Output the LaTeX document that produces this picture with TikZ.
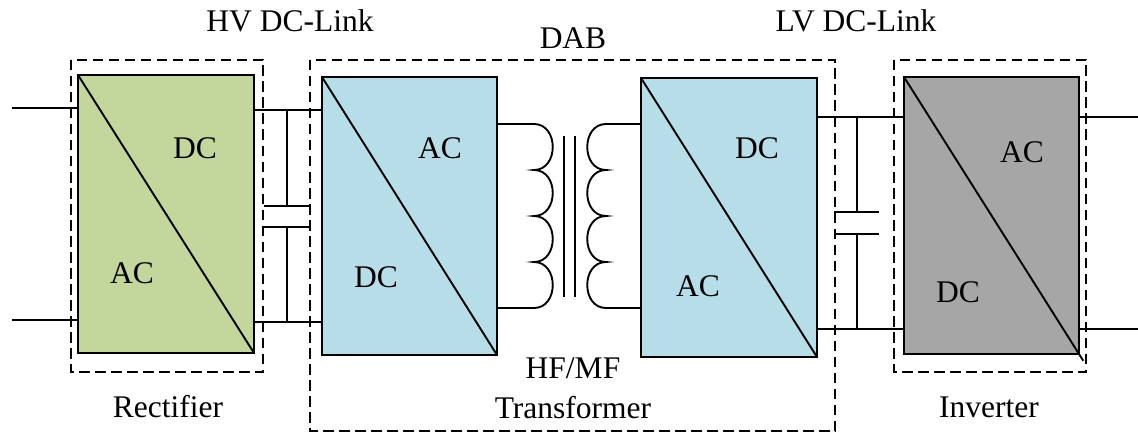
\documentclass[tikz,border=0pt]{standalone}
\usepackage{fontspec}
\setmainfont{Liberation Serif}
\usepackage{xcolor}
\definecolor{recgreen}{HTML}{C3D69B}
\definecolor{dabblue}{HTML}{B7DEE8}
\definecolor{invgray}{HTML}{A6A6A6}

\begin{document}
\begin{tikzpicture}[x=1pt,y=-1pt,line width=1.9pt,
  conv/.style={draw,rectangle,inner sep=0pt,outer sep=0pt,minimum width=176pt,minimum height=278pt},
  dashbox/.style={dash pattern=on 10.5pt off 5.5pt},
  lbl/.style={anchor=base,inner sep=0pt,font=\fontsize{31.5}{38}\selectfont}]
 \useasboundingbox (0,0) rectangle (1138,433);

  % converters
  \node[conv,fill=recgreen] (rec) at (166,214) {};
  \node[conv,fill=dabblue,minimum width=175pt] (dabp) at (409.5,216) {};
  \node[conv,fill=dabblue,minimum height=279pt] (dabs) at (729,217.5) {};
  \node[conv,fill=invgray,minimum width=175pt,minimum height=277pt] (inv) at (991.5,215.5) {};
  \foreach \c in {rec,dabp,dabs}{
   \draw (\c.north west) -- (\c.south east);
  }
  \draw[shorten >=-8pt] (inv.north west) -- (inv.south east);

  % wire levels
  \coordinate (in1) at (12,108);
  \coordinate (in2) at (12,320);
  \coordinate (hv1) at (0,110);
  \coordinate (hv2) at (0,322);
  \coordinate (lv1) at (0,117);
  \coordinate (lv2) at (0,329);
  \coordinate (out1) at (1138,117);
  \coordinate (out2) at (1138,329);

  \draw (in1) -- (in1 -| rec.west);
  \draw (in2) -- (in2 -| rec.west);
  \draw (hv1 -| rec.east) -- (hv1 -| dabp.west);
  \draw (hv2 -| rec.east) -- (hv2 -| dabp.west);
  \draw (lv1 -| dabs.east) -- (lv1 -| inv.west);
  \draw (lv2 -| dabs.east) -- (lv2 -| inv.west);
  \draw (out1 -| inv.east) -- (out1);
  \draw (out2 -| inv.east) -- (out2);

  % dc-link capacitors
  \foreach \x/\ya/\yb/\t/\b in {287/206/227/110/322,857/212/234/117/329}{
   \draw (\x,\t) -- (\x,\ya) (\x-23,\ya) -- (\x+22,\ya);
   \draw (\x,\b) -- (\x,\yb) (\x-23,\yb) -- (\x+22,\yb);
  }

  % transformer
  \coordinate (tr1) at (534,124);
  \coordinate (tr2) at (534,308);
  \coordinate (tr3) at (606,124);
  \coordinate (tr4) at (606,308);
  \draw (tr1 -| dabp.east) -- (tr1)
   \foreach \i in {1,...,4}{ .. controls +(25,0) and +(25,0) .. ++(0,46)}
   -- (tr2 -| dabp.east);
  \draw (tr3 -| dabs.west) -- (tr3)
   \foreach \i in {1,...,4}{ .. controls +(-25,0) and +(-25,0) .. ++(0,46)}
   -- (tr4 -| dabs.west);
  \draw (564,136) -- (564,297) (575,136) -- (575,297);

  % dashed groups
  \draw[dashbox] (71,60) rectangle (263,372);
  \draw[dashbox] (310,60) rectangle (835,431);
  \draw[dashbox] (894,60) rectangle (1086,372);

  % labels
  \node[lbl] (hvl) at (290,32) {HV DC-Link};
  \node[lbl] (dabl) at (573,49) {DAB};
  \node[lbl] (lvl) at (856,32) {LV DC-Link};
  \node[lbl] (recl) at (168,417) {Rectifier};
  \node[lbl] (hfl) at (573,378) {HF/MF};
  \node[lbl] (trl) at (573,418) {Transformer};
  \node[lbl] (invl) at (989,417) {Inverter};

  \node[lbl] at (195,158) {DC};
  \node[lbl] at (132,283) {AC};
  \node[lbl] at (440,158) {AC};
  \node[lbl] at (376,287) {DC};
  \node[lbl] at (757,158) {DC};
  \node[lbl] at (698,296) {AC};
  \node[lbl] at (1022,162) {AC};
  \node[lbl] at (958,302) {DC};

\end{tikzpicture}
\end{document}
